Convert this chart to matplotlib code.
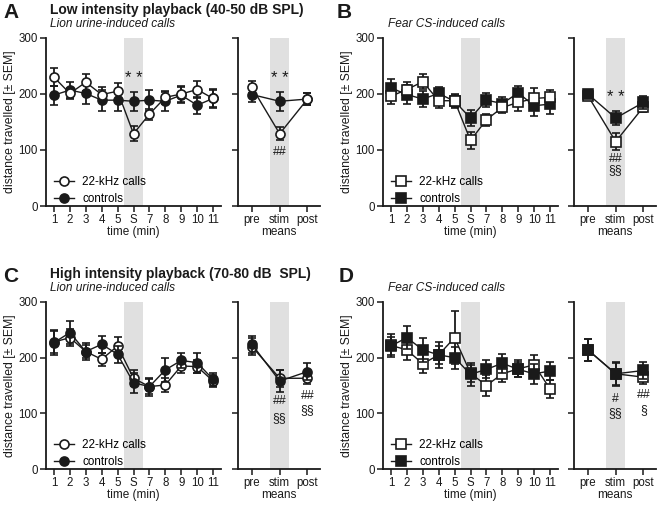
import matplotlib
matplotlib.use("Agg")
import matplotlib.pyplot as plt
from matplotlib.lines import Line2D
import numpy as np

plt.rcParams['font.family'] = ['Liberation Sans', 'DejaVu Sans']
TXT = '#1a1a1a'

time_labels = ['1', '2', '3', '4', '5', 'S', '7', '8', '9', '10', '11']
means_labels = ['pre', 'stim', 'post']

# Panel A (low intensity, lion urine-induced calls)
A_calls = [230, 201, 221, 199, 205, 129, 164, 194, 200, 208, 192]
A_calls_sem = [16, 10, 15, 13, 15, 13, 10, 12, 14, 15, 17]
A_ctrl = [198, 207, 201, 189, 189, 187, 189, 187, 198, 180, 192]
A_ctrl_sem = [17, 15, 19, 19, 19, 17, 19, 17, 14, 15, 15]
A_calls_m = [212, 129, 191]
A_calls_m_sem = [11, 12, 10]
A_ctrl_m = [199, 187, 191]
A_ctrl_m_sem = [13, 17, 10]

# Panel B (low intensity, fear CS-induced calls)
B_calls = [196, 208, 222, 188, 188, 117, 154, 176, 185, 192, 194]
B_calls_sem = [14, 14, 13, 13, 12, 16, 11, 10, 16, 19, 13]
B_ctrl = [211, 199, 191, 201, 187, 157, 189, 183, 202, 179, 182]
B_ctrl_sem = [15, 17, 14, 12, 12, 14, 12, 12, 13, 19, 18]
B_calls_m = [197, 115, 177]
B_calls_m_sem = [8, 15, 10]
B_ctrl_m = [200, 157, 185]
B_ctrl_m_sem = [8, 13, 12]

# Panel C (high intensity, lion urine-induced calls)
C_calls = [228, 236, 211, 197, 221, 163, 148, 151, 185, 184, 158]
C_calls_sem = [20, 15, 12, 12, 17, 14, 14, 12, 12, 12, 10]
C_ctrl = [227, 245, 211, 224, 206, 155, 148, 178, 195, 191, 161]
C_ctrl_sem = [22, 20, 15, 15, 15, 18, 16, 21, 14, 18, 11]
C_calls_m = [220, 163, 163]
C_calls_m_sem = [15, 15, 10]
C_ctrl_m = [224, 158, 175]
C_ctrl_m_sem = [15, 20, 15]

# Panel D (high intensity, fear CS-induced calls)
D_calls = [222, 214, 189, 205, 236, 172, 150, 171, 180, 187, 144]
D_calls_sem = [20, 18, 17, 23, 47, 15, 19, 15, 15, 18, 16]
D_ctrl = [221, 236, 214, 205, 200, 170, 179, 190, 179, 171, 176]
D_ctrl_sem = [17, 20, 22, 16, 20, 21, 16, 17, 13, 18, 16]
D_calls_m = [214, 171, 165]
D_calls_m_sem = [20, 20, 13]
D_ctrl_m = [214, 171, 177]
D_ctrl_m_sem = [20, 22, 15]

W, H = 660, 507
fig = plt.figure(figsize=(W / 100, H / 100), dpi=100)

def fx(px):
    return px / W

def fy(py):
    return 1 - py / H

TICK_FS = 8.3
LAB_FS = 8.5
MS = 6.5
LW = 1.0
STAR_FS = 12
HASH_FS = 8.8

def style_ax(ax, xlim):
    ax.set_ylim(0, 300)
    ax.set_xlim(*xlim)
    for s in ['top', 'right']:
        ax.spines[s].set_visible(False)
    for s in ['left', 'bottom']:
        ax.spines[s].set_linewidth(1.3)
        ax.spines[s].set_color(TXT)
    ax.set_yticks([0, 100, 200, 300])
    ax.tick_params(axis='both', direction='out', length=4, width=1.1,
                   colors=TXT, labelsize=TICK_FS, pad=2)

def plot_pair(ax, x, calls, calls_sem, ctrl, ctrl_sem, marker, open_top):
    zc = 4 if open_top else 3
    zf = 3 if open_top else 4
    ax.errorbar(x, ctrl, yerr=ctrl_sem, fmt=marker + '-', color=TXT,
                mfc=TXT, mec=TXT, ms=MS, mew=1.2, lw=LW, elinewidth=1.3,
                capsize=3, capthick=1.3, zorder=zf)
    ax.errorbar(x, calls, yerr=calls_sem, fmt=marker + '-', color=TXT,
                mfc='white', mec=TXT, ms=MS, mew=1.2, lw=LW, elinewidth=1.3,
                capsize=3, capthick=1.3, zorder=zc)

def make_panel(left_px, bottom_px, top_px, meansleft_px, data, marker,
               open_top, means_open_top, time_ann, means_ann):
    (calls, calls_sem, ctrl, ctrl_sem, cm, cms, km, kms) = data
    h = (bottom_px - top_px) / H
    ax1 = fig.add_axes([fx(left_px), fy(bottom_px), fx(175), h])
    ax2 = fig.add_axes([fx(meansleft_px), fy(bottom_px), fx(82), h])
    xt = np.arange(1, len(time_labels) + 1)
    xm = np.arange(1, len(means_labels) + 1)
    style_ax(ax1, (0.5, 11.5))
    style_ax(ax2, (0.5, 3.45))
    ax1.axvspan(6 - 0.57, 6 + 0.57, color='#e0e0e0', lw=0, zorder=0)
    ax2.axvspan(2 - 0.34, 2 + 0.34, color='#e0e0e0', lw=0, zorder=0)
    plot_pair(ax1, xt, calls, calls_sem, ctrl, ctrl_sem, marker, open_top)
    plot_pair(ax2, xm, cm, cms, km, kms, marker, means_open_top)
    ax1.set_xticks(xt)
    ax1.set_xticklabels(time_labels)
    ax2.set_xticks(xm)
    ax2.set_xticklabels(means_labels)
    ax2.set_yticklabels([])
    ax1.set_xlabel('time (min)', fontsize=LAB_FS, color=TXT, labelpad=0)
    ax2.set_xlabel('means', fontsize=LAB_FS, color=TXT, labelpad=0)
    ax1.set_ylabel('distance travelled [± SEM]', fontsize=8.8, color=TXT,
                   labelpad=2)
    handles = [
        Line2D([], [], marker=marker, color=TXT, mfc='white', mec=TXT,
               ms=MS, mew=1.2, lw=LW),
        Line2D([], [], marker=marker, color=TXT, mfc=TXT, mec=TXT,
               ms=MS, mew=1.2, lw=LW),
    ]
    ax1.legend(handles, ['22-kHz calls', 'controls'], loc='lower left',
               bbox_to_anchor=(0.0, -0.045), frameon=False,
               fontsize=8.4, handlelength=1.7, handletextpad=0.7,
               labelspacing=0.45, borderaxespad=0.3)
    for (xx, yy, s, fs) in time_ann:
        ax1.text(xx, yy, s, ha='center', va='center', fontsize=fs, color=TXT)
    for (xx, yy, s, fs) in means_ann:
        ax2.text(xx, yy, s, ha='center', va='center', fontsize=fs, color=TXT)
    return ax1, ax2

# Panel A
make_panel(46, 206, 38, 238,
           (A_calls, A_calls_sem, A_ctrl, A_ctrl_sem,
            A_calls_m, A_calls_m_sem, A_ctrl_m, A_ctrl_m_sem),
           'o', True, True,
           [(6, 228, '* *', STAR_FS)],
           [(2, 228, '* *', STAR_FS), (2, 96, '##', HASH_FS)])
# Panel B
make_panel(383, 206, 38, 574,
           (B_calls, B_calls_sem, B_ctrl, B_ctrl_sem,
            B_calls_m, B_calls_m_sem, B_ctrl_m, B_ctrl_m_sem),
           's', True, False,
           [],
           [(2, 194, '* *', STAR_FS), (2, 84, '##', HASH_FS),
            (2, 64, '§§', HASH_FS)])
# Panel C
make_panel(46, 469, 302, 238,
           (C_calls, C_calls_sem, C_ctrl, C_ctrl_sem,
            C_calls_m, C_calls_m_sem, C_ctrl_m, C_ctrl_m_sem),
           'o', False, False,
           [],
           [(2, 123, '##', HASH_FS), (2, 92, '§§', HASH_FS),
            (3, 131, '##', HASH_FS), (3, 105, '§§', HASH_FS)])
# Panel D
make_panel(383, 469, 302, 574,
           (D_calls, D_calls_sem, D_ctrl, D_ctrl_sem,
            D_calls_m, D_calls_m_sem, D_ctrl_m, D_ctrl_m_sem),
           's', False, False,
           [],
           [(2, 125, '#', HASH_FS), (2, 100, '§§', HASH_FS),
            (3, 133, '##', HASH_FS), (3, 106, '§', HASH_FS)])

# Panel letters and titles
def ftext(xp, yp, s, **kw):
    fig.text(fx(xp), fy(yp), s, color=TXT, **kw)

ftext(3, 18, 'A', fontsize=15, fontweight='bold', va='baseline')
ftext(50, 14, 'Low intensity playback (40-50 dB SPL)', fontsize=10,
      fontweight='bold', va='baseline')
ftext(50, 27, 'Lion urine-induced calls', fontsize=8.6, style='italic',
      va='baseline')
ftext(337, 18, 'B', fontsize=15, fontweight='bold', va='baseline')
ftext(388, 27, 'Fear CS-induced calls', fontsize=8.6, style='italic',
      va='baseline')
ftext(3, 282, 'C', fontsize=15, fontweight='bold', va='baseline')
ftext(50, 278, 'High intensity playback (70-80 dB  SPL)', fontsize=10,
      fontweight='bold', va='baseline')
ftext(50, 291, 'Lion urine-induced calls', fontsize=8.6, style='italic',
      va='baseline')
ftext(339, 282, 'D', fontsize=15, fontweight='bold', va='baseline')
ftext(388, 291, 'Fear CS-induced calls', fontsize=8.6, style='italic',
      va='baseline')

fig.savefig('out.png', dpi=100)
